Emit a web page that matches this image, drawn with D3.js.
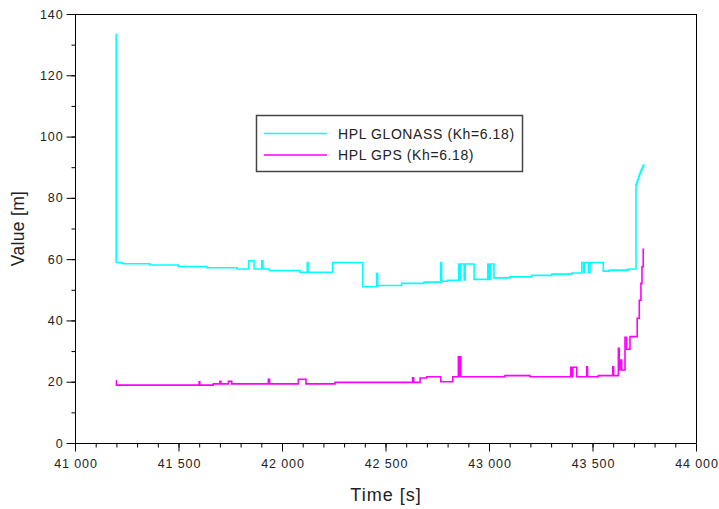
<!DOCTYPE html>
<html><head><meta charset="utf-8">
<script src="https://cdn.jsdelivr.net/npm/d3@7"></script>
<style>body{margin:0;background:#fff}svg{display:block}text{font-family:"Liberation Sans",Arial,sans-serif}</style>
</head><body><svg id="c" width="719" height="509"></svg>
<script>
const glonassT = [41198,41199,41230,41362,41498,41638,41783,41839,41865,41902,41908,41939,42087,42122,42126,42245,42390,42457,42462,42578,42686,42767,42771,42799,42854,42860,42864,42880,42885,42928,42994,43001,43008,43024,43101,43206,43303,43400,43448,43457,43462,43480,43488,43552,43581,43673,43710,43714,43718,43722,43726,43730,43734,43738,43742,43746,43749];
const glonassV = [133.4,58.9,58.5,58.1,57.6,57.2,56.8,59.5,56.8,59.5,56.8,56.3,55.7,58.9,55.7,58.9,51.0,55.3,51.4,52.1,52.5,58.9,52.8,53.1,58.4,53.1,58.4,53.2,58.4,53.4,58.4,53.4,58.4,53.9,54.2,54.7,55.1,55.5,58.9,55.6,58.9,55.6,58.9,56.1,56.4,56.8,84.4,85.2,86.0,86.8,87.6,88.3,89.0,89.6,90.2,90.7,91.0];
const gpsT = [41198,41200,41600,41603,41668,41700,41704,41741,41757,41934,41940,42079,42116,42256,42631,42636,42667,42699,42767,42825,42852,42856,42860,42864,43077,43198,43395,43400,43405,43424,43472,43476,43528,43598,43602,43625,43629,43633,43641,43657,43665,43681,43716,43726,43734,43739,43745,43750];
const gpsV = [20.3,18.9,20.0,18.9,19.3,20.1,19.3,20.1,19.3,20.8,19.3,20.8,19.3,19.8,21.3,19.8,21.2,21.6,20.0,21.6,28.1,21.6,28.1,21.6,22.0,21.6,24.7,21.6,24.7,21.6,24.9,21.6,22.0,24.9,22.0,30.9,23.8,27.1,23.8,34.5,30.6,34.7,40.7,46.6,52.1,57.5,63.2,63.2];
const xTicks = [41000,41500,42000,42500,43000,43500,44000];
const yTicks = [0,20,40,60,80,100,120,140];
const seriesNames = ["HPL GLONASS (Kh=6.18)","HPL GPS (Kh=6.18)"];
const seriesColors = ["#00ffff","#ff00ff"];

const svg = d3.select("#c");
const L=75,R=696,T=14,B=443;
const x = d3.scaleLinear().domain([41000,44000]).range([L,R]);
const y = d3.scaleLinear().domain([0,140]).range([B,T]);
const fmt = d=>{const s=String(d);return s.length>3? s.slice(0,s.length-3)+" "+s.slice(-3):s;};
const tickFont = "Liberation Sans, Arial, sans-serif";

svg.append("line").attr("x1",L).attr("x2",R).attr("y1",T+0.5).attr("y2",T+0.5).attr("stroke","#000");
svg.append("line").attr("x1",R+0.5).attr("x2",R+0.5).attr("y1",T).attr("y2",B).attr("stroke","#000");

const gx = svg.append("g").attr("transform",`translate(0,${B+0.5})`);
gx.call(d3.axisBottom(x).tickValues(d3.range(41000,44001,100)).tickSize(4).tickFormat(""));
gx.call(g=>g.select(".domain").remove());
const gx2 = svg.append("g").attr("transform",`translate(0,${B+0.5})`)
  .call(d3.axisBottom(x).tickValues(xTicks).tickSize(8).tickFormat(fmt).tickPadding(8));
gx2.selectAll("text").attr("font-size",12.5).attr("letter-spacing",0.9).attr("fill","#222").attr("font-family",tickFont).attr("dx",0.45);
gx2.select(".domain").attr("d",`M${L},0H${R}`);

const gy = svg.append("g").attr("transform",`translate(${L+0.5},0)`);
gy.call(d3.axisLeft(y).tickValues(d3.range(0,141,10)).tickSize(4).tickFormat(""));
gy.call(g=>g.select(".domain").remove());
const gy2 = svg.append("g").attr("transform",`translate(${L+0.5},0)`)
  .call(d3.axisLeft(y).tickValues(yTicks).tickSize(9).tickFormat(d=>d).tickPadding(3));
gy2.selectAll("text").attr("font-size",12.5).attr("letter-spacing",0.9).attr("fill","#222").attr("font-family",tickFont);
gy2.select(".domain").attr("d",`M0,${T}V${B}`);
svg.selectAll(".tick line").attr("stroke","#000");

svg.append("text").attr("x",(L+R)/2+0.5).attr("y",501).attr("text-anchor","middle").attr("font-size",18).attr("letter-spacing",1).attr("fill","#222").text("Time [s]");
svg.append("text").attr("transform",`translate(24,${(T+B)/2}) rotate(-90)`).attr("text-anchor","middle").attr("font-size",17.5).attr("letter-spacing",0.3).attr("fill","#222").text("Value [m]");

const line = d3.line().x(d=>x(d[0])).y(d=>y(d[1])).curve(d3.curveStepAfter);
svg.append("clipPath").attr("id","clp").append("rect").attr("x",L).attr("y",T).attr("width",R-L).attr("height",B-T);
const data = [d3.zip(glonassT,glonassV), d3.zip(gpsT,gpsV)];
data.forEach((d,i)=>{
  svg.append("path").attr("d",line(d)).attr("fill","none").attr("stroke",seriesColors[i]).attr("stroke-width",1.6).attr("clip-path","url(#clp)");
});

const lg = svg.append("g");
lg.append("rect").attr("x",256.5).attr("y",115.5).attr("width",266).attr("height",56).attr("fill","#fff").attr("stroke","#444").attr("stroke-width",1.5);
seriesNames.forEach((n,i)=>{
  const yy = 133.5 + i*21.5;
  lg.append("line").attr("x1",264).attr("x2",327).attr("y1",yy).attr("y2",yy).attr("stroke",seriesColors[i]).attr("stroke-width",1.6);
  lg.append("text").attr("x",338).attr("y",yy+5).attr("font-size",14).attr("letter-spacing",0.6).attr("fill","#222").text(n);
});
</script></body></html>
